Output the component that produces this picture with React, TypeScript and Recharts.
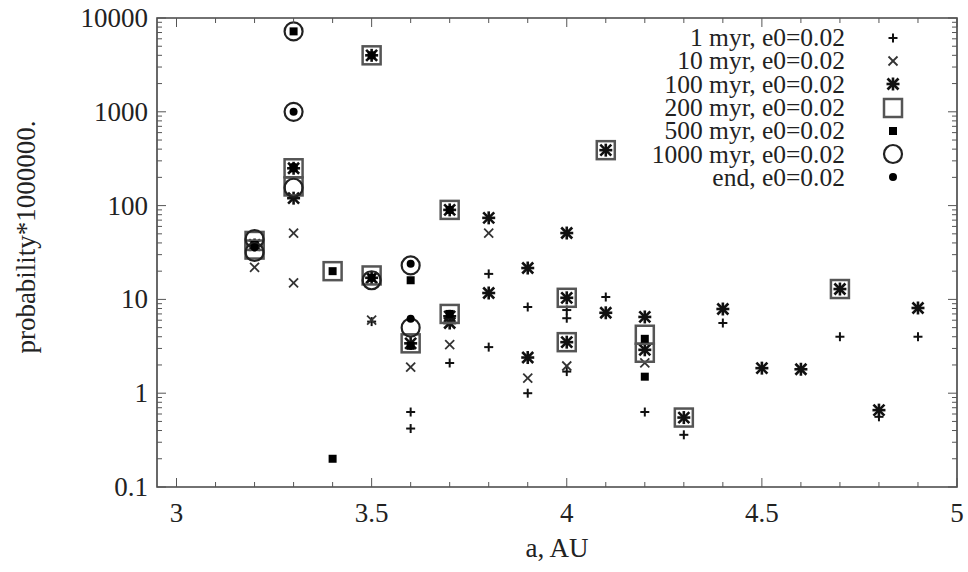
import React from "react";
import {
  ScatterChart,
  Scatter,
  XAxis,
  YAxis,
  Legend,
  ReferenceArea,
} from "recharts";

// probability*1e6 vs semi-major axis, one list per snapshot time
const myr1 = [
  { a: 3.5, p: 5.8 }, { a: 3.6, p: 0.63 }, { a: 3.6, p: 0.42 }, { a: 3.7, p: 2.1 },
  { a: 3.8, p: 18.7 }, { a: 3.8, p: 3.1 }, { a: 3.9, p: 8.3 }, { a: 3.9, p: 1.0 },
  { a: 4.0, p: 7.7 }, { a: 4.0, p: 6.3 }, { a: 4.0, p: 1.7 }, { a: 4.1, p: 10.6 },
  { a: 4.2, p: 0.63 }, { a: 4.3, p: 0.36 }, { a: 4.4, p: 5.6 }, { a: 4.7, p: 4.0 },
  { a: 4.8, p: 0.56 }, { a: 4.9, p: 4.0 },
];
const myr10 = [
  { a: 3.2, p: 22 }, { a: 3.3, p: 51 }, { a: 3.3, p: 15 }, { a: 3.5, p: 6.0 },
  { a: 3.6, p: 1.9 }, { a: 3.7, p: 3.3 }, { a: 3.8, p: 51 }, { a: 3.9, p: 1.45 },
  { a: 4.0, p: 1.95 }, { a: 4.2, p: 2.1 },
];
const myr100 = [
  { a: 3.2, p: 38 }, { a: 3.3, p: 250 }, { a: 3.3, p: 120 }, { a: 3.5, p: 4000 },
  { a: 3.5, p: 17 }, { a: 3.6, p: 3.4 }, { a: 3.7, p: 90 }, { a: 3.7, p: 6.6 },
  { a: 3.7, p: 5.6 }, { a: 3.8, p: 74 }, { a: 3.8, p: 11.7 }, { a: 3.9, p: 21.6 },
  { a: 3.9, p: 2.4 }, { a: 4.0, p: 51 }, { a: 4.0, p: 10.4 }, { a: 4.0, p: 3.5 },
  { a: 4.1, p: 390 }, { a: 4.1, p: 7.2 }, { a: 4.2, p: 6.5 }, { a: 4.2, p: 2.9 },
  { a: 4.3, p: 0.55 }, { a: 4.4, p: 7.9 }, { a: 4.5, p: 1.85 }, { a: 4.6, p: 1.8 },
  { a: 4.7, p: 12.9 }, { a: 4.8, p: 0.66 }, { a: 4.9, p: 8.1 },
];
const myr200 = [
  { a: 3.2, p: 42 }, { a: 3.2, p: 34 }, { a: 3.3, p: 250 }, { a: 3.3, p: 160 },
  { a: 3.4, p: 20 }, { a: 3.5, p: 4000 }, { a: 3.5, p: 18 }, { a: 3.6, p: 3.4 },
  { a: 3.7, p: 90 }, { a: 3.7, p: 7.0 }, { a: 4.0, p: 10.4 }, { a: 4.0, p: 3.5 },
  { a: 4.1, p: 390 }, { a: 4.2, p: 4.2 }, { a: 4.2, p: 2.7 }, { a: 4.3, p: 0.55 },
  { a: 4.7, p: 12.9 },
];
const myr500 = [
  { a: 3.2, p: 38 }, { a: 3.3, p: 7200 }, { a: 3.3, p: 250 }, { a: 3.4, p: 20 },
  { a: 3.4, p: 0.2 }, { a: 3.5, p: 4000 }, { a: 3.5, p: 17 }, { a: 3.6, p: 16 },
  { a: 3.6, p: 3.2 }, { a: 3.7, p: 90 }, { a: 3.7, p: 7.0 }, { a: 4.2, p: 3.8 },
  { a: 4.2, p: 1.5 },
];
const myr1000 = [
  { a: 3.2, p: 44 }, { a: 3.2, p: 32 }, { a: 3.3, p: 7200 }, { a: 3.3, p: 1000 },
  { a: 3.3, p: 155 }, { a: 3.5, p: 16 }, { a: 3.6, p: 23 }, { a: 3.6, p: 5.0 },
];
const endState = [
  { a: 3.2, p: 36 }, { a: 3.3, p: 1000 }, { a: 3.3, p: 260 }, { a: 3.6, p: 24 },
  { a: 3.6, p: 6.2 },
];

const xTicks = [
  3, 3.1, 3.2, 3.3, 3.4, 3.5, 3.6, 3.7, 3.8, 3.9, 4, 4.1, 4.2, 4.3, 4.4, 4.5,
  4.6, 4.7, 4.8, 4.9, 5,
];
const yDecades = [0.1, 1, 10, 100, 1000, 10000];
const yTicks = yDecades.flatMap((d, i) =>
  i === yDecades.length - 1 ? [d] : [1, 2, 3, 4, 5, 6, 7, 8, 9].map((m) => +(d * m).toPrecision(3))
);

const W = 968;
const H = 572;
const L = 157;
const R = 957;
const T = 18;
const B = 487;
const FONT = "'Liberation Serif', 'Times New Roman', serif";

const Plus = ({ cx, cy }: any) => (
  <g stroke="#111" strokeWidth={2}>
    <line x1={cx - 4.5} x2={cx + 4.5} y1={cy} y2={cy} />
    <line x1={cx} x2={cx} y1={cy - 4.5} y2={cy + 4.5} />
  </g>
);
const Cross = ({ cx, cy }: any) => (
  <g stroke="#333" strokeWidth={1.8}>
    <line x1={cx - 4.5} x2={cx + 4.5} y1={cy - 4.5} y2={cy + 4.5} />
    <line x1={cx - 4.5} x2={cx + 4.5} y1={cy + 4.5} y2={cy - 4.5} />
  </g>
);
const Star = ({ cx, cy }: any) => (
  <g stroke="#111" strokeWidth={2.6}>
    <line x1={cx - 6.5} x2={cx + 6.5} y1={cy} y2={cy} />
    <line x1={cx} x2={cx} y1={cy - 6.5} y2={cy + 6.5} />
    <line x1={cx - 5.5} x2={cx + 5.5} y1={cy - 5.5} y2={cy + 5.5} />
    <line x1={cx - 5.5} x2={cx + 5.5} y1={cy + 5.5} y2={cy - 5.5} />
  </g>
);
const OpenSquare = ({ cx, cy }: any) => (
  <rect x={cx - 9} y={cy - 9} width={18} height={18} fill="none" stroke="#555" strokeWidth={2.5} />
);
const FilledSquare = ({ cx, cy }: any) => (
  <rect x={cx - 4} y={cy - 4} width={8} height={8} fill="#000" />
);
const OpenCircle = ({ cx, cy }: any) => (
  <circle cx={cx} cy={cy} r={9} fill="none" stroke="#222" strokeWidth={2.2} />
);
const Dot = ({ cx, cy }: any) => <circle cx={cx} cy={cy} r={4} fill="#000" />;

const series = [
  { name: "1 myr, e0=0.02", data: myr1, Mark: Plus },
  { name: "10 myr, e0=0.02", data: myr10, Mark: Cross },
  { name: "100 myr, e0=0.02", data: myr100, Mark: Star },
  { name: "200 myr, e0=0.02", data: myr200, Mark: OpenSquare },
  { name: "500 myr, e0=0.02", data: myr500, Mark: FilledSquare },
  { name: "1000 myr, e0=0.02", data: myr1000, Mark: OpenCircle },
  { name: "end, e0=0.02", data: endState, Mark: Dot },
];

const XTick = ({ x, payload }: any) => {
  const v = payload.value;
  const major = Math.abs(v * 2 - Math.round(v * 2)) < 1e-6;
  const len = major ? 9 : 5;
  return (
    <g>
      <line x1={x} x2={x} y1={B} y2={B - len} stroke="#555" />
      <line x1={x} x2={x} y1={T} y2={T + len} stroke="#555" />
      {major && (
        <text x={x} y={B + 26} textAnchor="middle" dominantBaseline="central"
          fontFamily={FONT} fontSize={27} fill="#222">
          {String(v)}
        </text>
      )}
    </g>
  );
};

const YTick = ({ y, payload }: any) => {
  const v = payload.value;
  const lg = Math.log10(v);
  const major = Math.abs(lg - Math.round(lg)) < 1e-6;
  const len = major ? 9 : 5;
  return (
    <g>
      <line x1={L} x2={L + len} y1={y} y2={y} stroke="#555" />
      <line x1={R} x2={R - len} y1={y} y2={y} stroke="#555" />
      {major && (
        <text x={L - 9} y={y} textAnchor="end" dominantBaseline="central"
          fontFamily={FONT} fontSize={27} fill="#222">
          {String(v)}
        </text>
      )}
    </g>
  );
};

const LegendBox = () => (
  <div style={{ fontFamily: FONT, fontSize: 25.5, color: "#222" }}>
    {series.map(({ name, Mark }) => (
      <div key={name} style={{ display: "flex", justifyContent: "flex-end", alignItems: "center", height: 23.3 }}>
        <span style={{ whiteSpace: "nowrap", lineHeight: "23px" }}>{name}</span>
        <svg width={32} height={24} style={{ marginLeft: 32 }}>
          <Mark cx={16} cy={12} />
        </svg>
      </div>
    ))}
  </div>
);

export default function App() {
  return (
    <div style={{ position: "absolute", top: 0, left: 0 }}>
      <ScatterChart width={W} height={H} margin={{ top: T, right: W - R, left: 0, bottom: 0 }}>
        <XAxis
          type="number"
          dataKey="a"
          domain={[2.95, 5]}
          ticks={xTicks}
          interval={0}
          allowDataOverflow
          axisLine={false}
          tickLine={false}
          tick={<XTick />}
          height={H - B}
          label={{
            content: () => (
              <text x={(L + R) / 2} y={548} textAnchor="middle" dominantBaseline="central"
                fontFamily={FONT} fontSize={27} fill="#222">
                a, AU
              </text>
            ),
          }}
        />
        <YAxis
          type="number"
          dataKey="p"
          scale="log"
          domain={[0.1, 10000]}
          ticks={yTicks}
          interval={0}
          allowDataOverflow
          axisLine={false}
          tickLine={false}
          tick={<YTick />}
          width={L}
          label={{
            content: () => (
              <text x={26} y={237} transform="rotate(-90, 26, 237)" textAnchor="middle"
                dominantBaseline="central" fontFamily={FONT} fontSize={27} fill="#222">
                probability*1000000.
              </text>
            ),
          }}
        />
        <ReferenceArea x1={2.95} x2={5} y1={0.1} y2={10000} fill="none" stroke="#444" strokeWidth={1.6} />
        {series.map(({ name, data, Mark }) => (
          <Scatter
            key={name}
            name={name}
            data={data}
            isAnimationActive={false}
            shape={(props: any) => <Mark cx={props.cx} cy={props.cy} />}
          />
        ))}
        <Legend
          layout="vertical"
          align="center"
          verticalAlign="middle"
          content={() => <LegendBox />}
          wrapperStyle={{ top: 26, left: 568, width: 341 }}
        />
      </ScatterChart>
    </div>
  );
}
